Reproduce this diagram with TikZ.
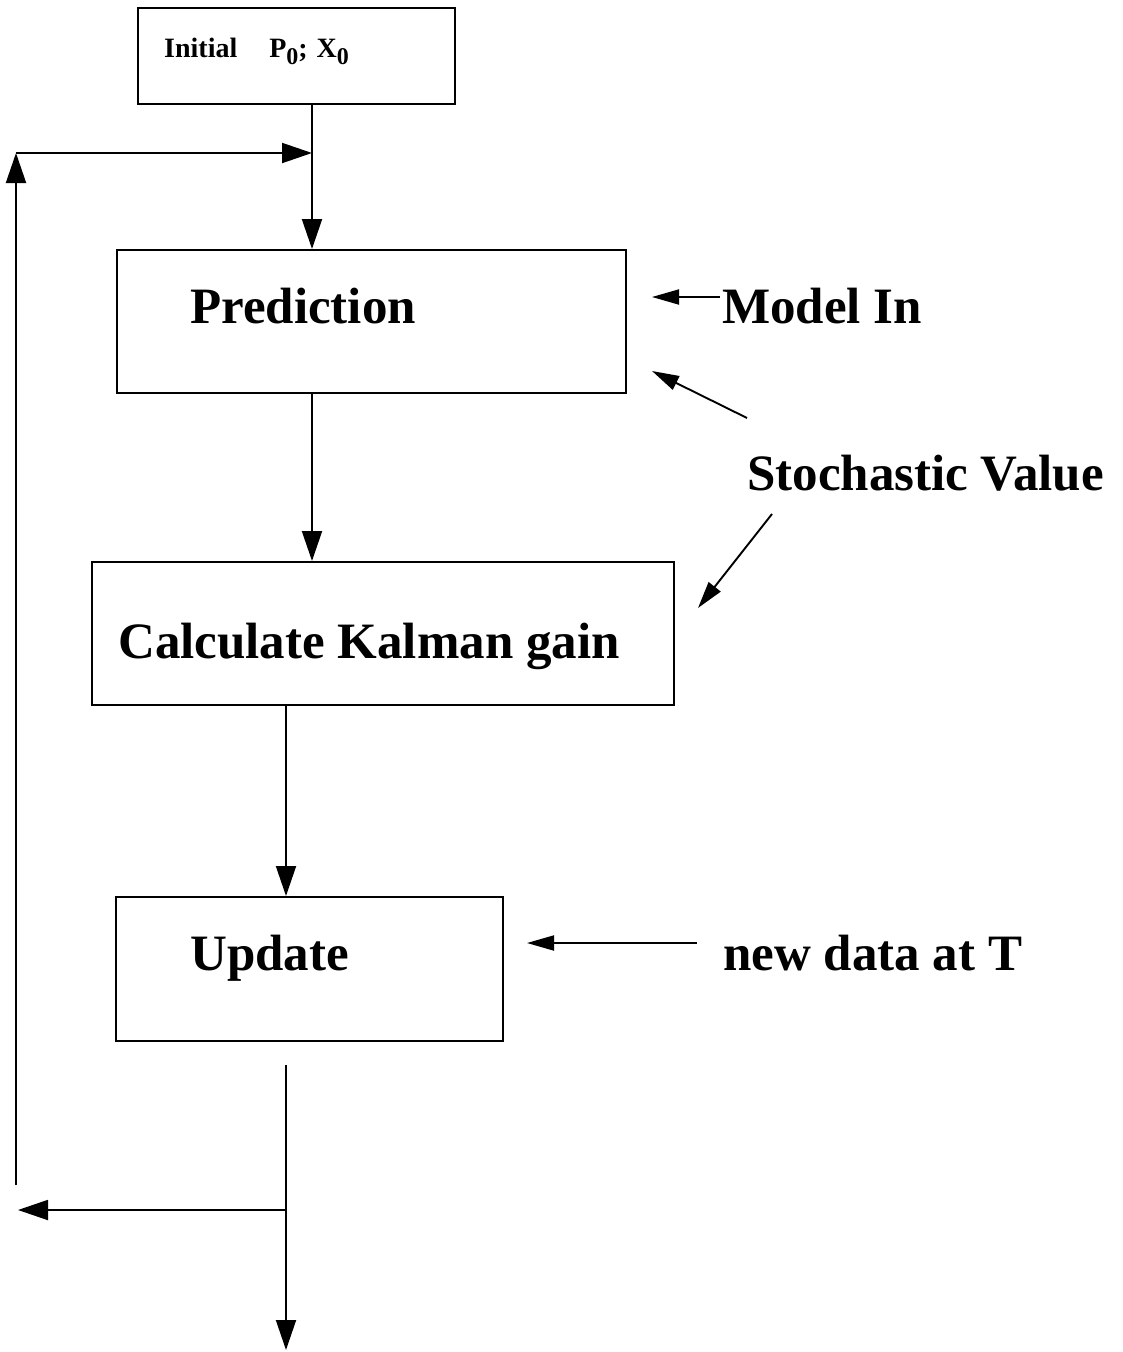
\documentclass[tikz,border=0pt]{standalone}
\usepackage{fontspec}
\setmainfont{Liberation Serif}
\usetikzlibrary{arrows.meta}
\begin{document}
\begin{tikzpicture}[x=1pt,y=-1pt,
  box/.style={draw, line width=2pt, inner sep=0pt},
  lbl/.style={anchor=base west, inner sep=0pt, font=\fontsize{51}{51}\selectfont\bfseries},
  arr/.style={line width=1.9pt, -{Triangle[length=30pt,width=20pt]}},
  sarr/.style={line width=1.9pt, -{Triangle[length=27pt,width=15pt]}}]
\useasboundingbox (0,0) rectangle (1123,1352);
% boxes
\node[box, minimum width=317pt, minimum height=96pt] (init) at (296.5,56) {};
\node[box, minimum width=509pt, minimum height=143pt] (pred) at (371.5,321.5) {};
\node[box, minimum width=582pt, minimum height=143pt] (kal) at (383,633.5) {};
\node[box, minimum width=387pt, minimum height=144pt] (upd) at (309.5,969) {};
% texts
\node[anchor=base west, inner sep=0pt, font=\fontsize{28}{28}\selectfont\bfseries] (tinit) at (164,57)
  {Initial\hspace{32pt}P\raisebox{-7pt}{\fontsize{24}{24}\selectfont 0};\hspace{9pt}X\raisebox{-7pt}{\fontsize{24}{24}\selectfont 0}};
\node[lbl] (tpred) at (190,323) {Prediction};
\node[lbl] (tkal) at (118,658) {Calculate Kalman gain};
\node[lbl] (tupd) at (190,970) {Update};
\node[lbl] (tmodel) at (722,323) {Model In};
\node[lbl] (tstoch) at (747,490) {Stochastic Value};
\node[lbl] (tnew) at (723,970) {new data at T};
% coordinates
\coordinate (j1) at (312,153);
\coordinate (ltop) at (16,153);
\coordinate (lbot) at (16,1185);
\coordinate (c2) at (286,800);
\coordinate (ostart) at (286,1065);
\coordinate (split) at (286,1210);
\coordinate (lend) at (18,1210);
\coordinate (oend) at (286,1350);
\coordinate (ma1) at (720,297);
\coordinate (ma2) at (652,297);
\coordinate (sa1) at (747,418);
\coordinate (sa2) at (652,371);
\coordinate (sb1) at (772,514);
\coordinate (sb2) at (698,608);
\coordinate (na1) at (697,943);
\coordinate (na2) at (527,943);
% connectors
\draw[arr] (init.south -| j1) -- (pred.north -| j1);
\draw[arr] (lbot) -- (ltop);
\draw[arr] (ltop) -- (j1);
\draw[arr] (pred.south -| j1) -- (kal.north -| j1);
\draw[arr] (kal.south -| c2) -- (upd.north -| c2);
\draw[arr] (ostart) -- (oend);
\draw[arr] (split) -- (lend);
\draw[sarr] (ma1) -- (ma2);
\draw[sarr] (sa1) -- (sa2);
\draw[sarr] (sb1) -- (sb2);
\draw[sarr] (na1) -- (na2);
\end{tikzpicture}
\end{document}
